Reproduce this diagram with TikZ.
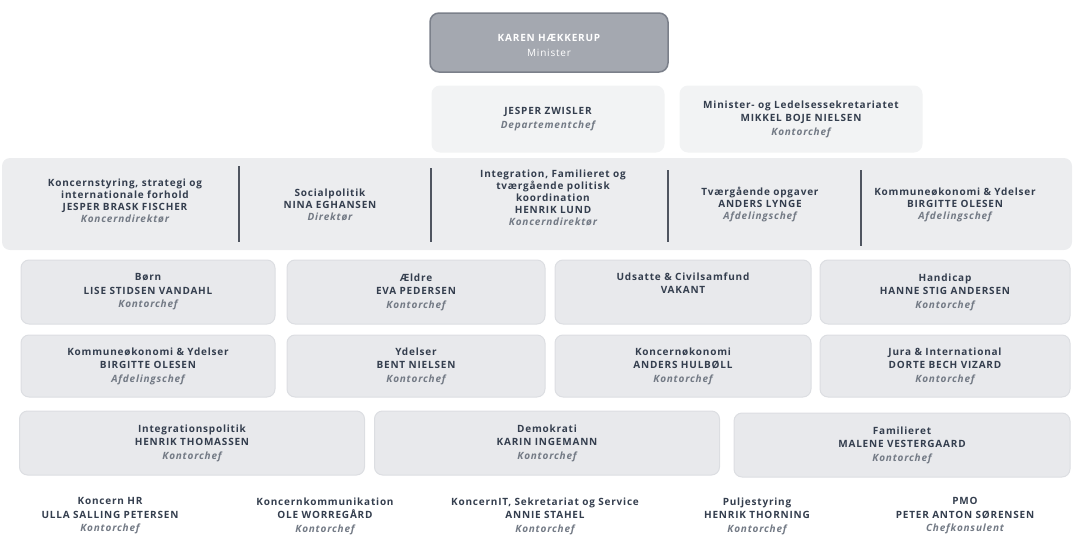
\documentclass[tikz,border=0pt]{standalone}
\usepackage{fontspec}
\setmainfont{Open Sans}[LetterSpace=8]
\definecolor{topfill}{HTML}{A4A8B0}
\definecolor{topdraw}{HTML}{7B808A}
\definecolor{boxfill}{HTML}{E8E9EC}
\definecolor{boxdraw}{HTML}{DCDEE2}
\definecolor{bandfill}{HTML}{ECEDEF}
\definecolor{faintfill}{HTML}{F2F3F4}
\definecolor{txt}{HTML}{343E4E}
\definecolor{ttlc}{HTML}{737A85}
\definecolor{vline}{HTML}{4F5560}
\newcommand{\ttl}[1]{{\itshape\color{ttlc}#1}}
\tikzset{
  unitbox/.style={draw=boxdraw, fill=boxfill, rounded corners=8pt, line width=1pt,
    align=center, text=txt, font=\fontsize{10}{13.5}\selectfont\bfseries, inner sep=0pt},
  faintbox/.style={unitbox, fill=faintfill, draw=faintfill},
  plain/.style={align=center, text=txt, font=\fontsize{10}{13.5}\selectfont\bfseries, inner sep=0pt},
  bandtext/.style={plain, font=\fontsize{10}{12}\selectfont\bfseries},
  sep/.style={draw=vline, line width=1.6pt}
}
\begin{document}
\begin{tikzpicture}[x=1pt,y=-1pt]
\useasboundingbox (0,0) rectangle (1074,538);
% top
\node[draw=topdraw, fill=topfill, rounded corners=9pt, line width=1.5pt, minimum width=238pt, minimum height=59pt] (min) at (549,42.5) {};
\node[plain, text=white, font=\fontsize{10}{15}\selectfont\bfseries] (mint) at (549,45)
  {KAREN HÆKKERUP\\{\mdseries Minister}};
% row 2
\node[faintbox, minimum width=232pt, minimum height=66pt] (zw) at (548,119)
  {JESPER ZWISLER\\\ttl{Departementchef}};
\node[faintbox, minimum width=242pt, minimum height=66pt] (mk) at (801,119)
  {Minister- og Ledelsessekretariatet\\MIKKEL BOJE NIELSEN\\\ttl{Kontorchef}};
% row 3
\fill[bandfill, rounded corners=8pt] (2,158) rectangle (1072,250);
\node[bandtext] (r3a) at (125,201)
  {Koncernstyring, strategi og\\internationale forhold\\JESPER BRASK FISCHER\\\ttl{Koncerndirektør}};
\node[bandtext] (r3b) at (330,205)
  {Socialpolitik\\NINA EGHANSEN\\\ttl{Direktør}};
\node[bandtext] (r3c) at (553,198)
  {Integration, Familieret og\\tværgående politisk\\koordination\\HENRIK LUND\\\ttl{Koncerndirektør}};
\node[bandtext] (r3d) at (760,205)
  {Tværgående opgaver\\ANDERS LYNGE\\\ttl{Afdelingschef}};
\node[bandtext] (r3e) at (955,205)
  {Kommuneøkonomi \& Ydelser\\BIRGITTE OLESEN\\\ttl{Afdelingschef}};
\coordinate (s1t) at (239,166); \coordinate (s1b) at (239,242);
\coordinate (s2t) at (431,168); \coordinate (s2b) at (431,242);
\coordinate (s3t) at (668,170); \coordinate (s3b) at (668,242);
\coordinate (s4t) at (861,170); \coordinate (s4b) at (861,246);
\draw[sep] (s1t) -- (s1b);
\draw[sep] (s2t) -- (s2b);
\draw[sep] (s3t) -- (s3b);
\draw[sep] (s4t) -- (s4b);
% row 4
\node[unitbox, minimum width=254pt, minimum height=64pt] (b1) at (148,292)
  {Børn\\LISE STIDSEN VANDAHL\\\ttl{Kontorchef}};
\node[unitbox, minimum width=258pt, minimum height=64pt] (b2) at (416,292)
  {Ældre\\EVA PEDERSEN\\\ttl{Kontorchef}};
\node[unitbox, minimum width=256pt, minimum height=64pt] (b3) at (683,292)
  {Udsatte \& Civilsamfund\\VAKANT\\\strut};
\node[unitbox, minimum width=250pt, minimum height=64pt] (b4) at (945,292)
  {Handicap\\HANNE STIG ANDERSEN\\\ttl{Kontorchef}};
% row 5
\node[unitbox, minimum width=254pt, minimum height=62pt] (c1) at (148,366)
  {Kommuneøkonomi \& Ydelser\\BIRGITTE OLESEN\\\ttl{Afdelingschef}};
\node[unitbox, minimum width=258pt, minimum height=62pt] (c2) at (416,366)
  {Ydelser\\BENT NIELSEN\\\ttl{Kontorchef}};
\node[unitbox, minimum width=256pt, minimum height=62pt] (c3) at (683,366)
  {Koncernøkonomi\\ANDERS HULBØLL\\\ttl{Kontorchef}};
\node[unitbox, minimum width=250pt, minimum height=62pt] (c4) at (945,366)
  {Jura \& International\\DORTE BECH VIZARD\\\ttl{Kontorchef}};
% row 6
\node[unitbox, minimum width=345pt, minimum height=64pt] (d1) at (192,443)
  {Integrationspolitik\\HENRIK THOMASSEN\\\ttl{Kontorchef}};
\node[unitbox, minimum width=345pt, minimum height=64pt] (d2) at (547,443)
  {Demokrati\\KARIN INGEMANN\\\ttl{Kontorchef}};
\node[unitbox, minimum width=336pt, minimum height=64pt] (d3) at (902,445)
  {Familieret\\MALENE VESTERGAARD\\\ttl{Kontorchef}};
% row 7
\node[plain] (e1) at (110,516) {Koncern HR\\ULLA SALLING PETERSEN\\\ttl{Kontorchef}};
\node[plain] (e2) at (325,516) {Koncernkommunikation\\OLE WORREGÅRD\\\ttl{Kontorchef}};
\node[plain] (e3) at (545,516) {KoncernIT, Sekretariat og Service\\ANNIE STAHEL\\\ttl{Kontorchef}};
\node[plain] (e4) at (757,516) {Puljestyring\\HENRIK THORNING\\\ttl{Kontorchef}};
\node[plain] (e5) at (965,516) {PMO\\PETER ANTON SØRENSEN\\\ttl{Chefkonsulent}};
\end{tikzpicture}
\end{document}
